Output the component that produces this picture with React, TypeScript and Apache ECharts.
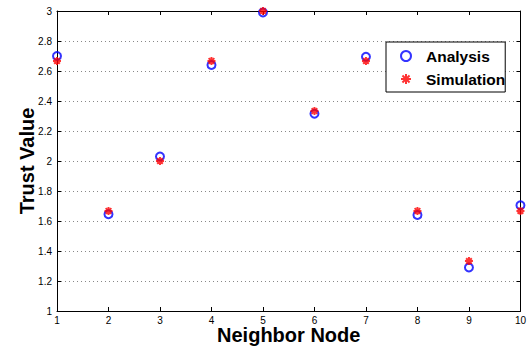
import React, { useEffect, useRef } from "react";
import * as echarts from "echarts";

const nodes = [1, 2, 3, 4, 5, 6, 7, 8, 9, 10];
const analysis = [2.70, 1.645, 2.03, 2.64, 2.99, 2.315, 2.695, 1.64, 1.29, 1.705];
const simulation = [2.667, 1.667, 2.0, 2.667, 3.0, 2.333, 2.667, 1.667, 1.333, 1.667];

const STAR = "path://M0,-5L0,5M-5,0L5,0M-3.54,-3.54L3.54,3.54M-3.54,3.54L3.54,-3.54";

export default function App() {
  const ref = useRef<HTMLDivElement>(null);
  useEffect(() => {
    if (!ref.current) return;
    const chart = echarts.init(ref.current, undefined, { renderer: "svg" });
    const font = "'Liberation Sans', Arial, Helvetica, sans-serif";
    const axisCommon = {
      type: "value" as const,
      axisLine: { show: true, lineStyle: { color: "#000", width: 1 } },
      axisTick: { show: true, inside: true, length: 4, lineStyle: { color: "#000" } },
    };
    chart.setOption({
      animation: false,
      backgroundColor: "#fff",
      textStyle: { fontFamily: font },
      grid: { left: 57, right: 7, top: 11, bottom: 38, containLabel: false },
      legend: {
        orient: "vertical",
        left: 386,
        top: 42,
        padding: [6, 0, 5, 14],
        itemGap: 7,
        itemWidth: 30,
        itemHeight: 10,
        borderColor: "#000",
        borderWidth: 1,
        backgroundColor: "#fff",
        borderRadius: 0,
        textStyle: { fontFamily: font, fontWeight: "bold", fontSize: 15.5, lineHeight: 16, color: "#000", padding: [0, 0, 0, 0] },
        data: ["Analysis", "Simulation"],
      },
      xAxis: [
        {
          ...axisCommon,
          min: 1,
          max: 10,
          interval: 1,
          position: "bottom",
          name: "Neighbor Node",
          nameLocation: "middle",
          nameGap: 14,
          nameMoveOverlap: false,
          nameTextStyle: { fontFamily: font, fontWeight: "bold", fontSize: 20, color: "#000", verticalAlign: "top" },
          axisLabel: { show: true, margin: 4, fontSize: 10, color: "#000", fontFamily: font },
          splitLine: { show: false },
        },
        {
          ...axisCommon,
          min: 1,
          max: 10,
          interval: 1,
          position: "top",
          axisLabel: { show: false },
          splitLine: { show: false },
        },
      ],
      yAxis: [
        {
          ...axisCommon,
          min: 1,
          max: 3,
          interval: 0.2,
          position: "left",
          name: "Trust Value",
          nameLocation: "middle",
          nameGap: 20,
          nameMoveOverlap: false,
          nameTextStyle: { fontFamily: font, fontWeight: "bold", fontSize: 20, color: "#000" },
          axisLabel: { show: true, margin: 5, fontSize: 10, color: "#000", fontFamily: font },
          splitLine: { show: true, lineStyle: { color: "#888", width: 1, type: [1, 3] } },
        },
        {
          ...axisCommon,
          min: 1,
          max: 3,
          interval: 0.2,
          position: "right",
          axisLabel: { show: false },
          splitLine: { show: false },
        },
      ],
      series: [
        {
          name: "Analysis",
          type: "scatter",
          symbol: "circle",
          symbolSize: 8,
          itemStyle: { color: "rgba(0,0,0,0)", borderColor: "#0000ff", borderWidth: 2 },
          data: nodes.map((n, i) => [n, analysis[i]]),
          z: 3,
        },
        {
          name: "Simulation",
          type: "scatter",
          symbol: STAR,
          symbolSize: 8,
          itemStyle: { color: "#ff0000", borderColor: "#ff0000", borderWidth: 2 },
          data: nodes.map((n, i) => [n, simulation[i]]),
          z: 4,
        },
      ],
    });
    return () => chart.dispose();
  }, []);
  return (
    <div
      ref={ref}
      style={{ position: "fixed", left: 0, top: 0, width: 529, height: 350, background: "#fff" }}
    />
  );
}
